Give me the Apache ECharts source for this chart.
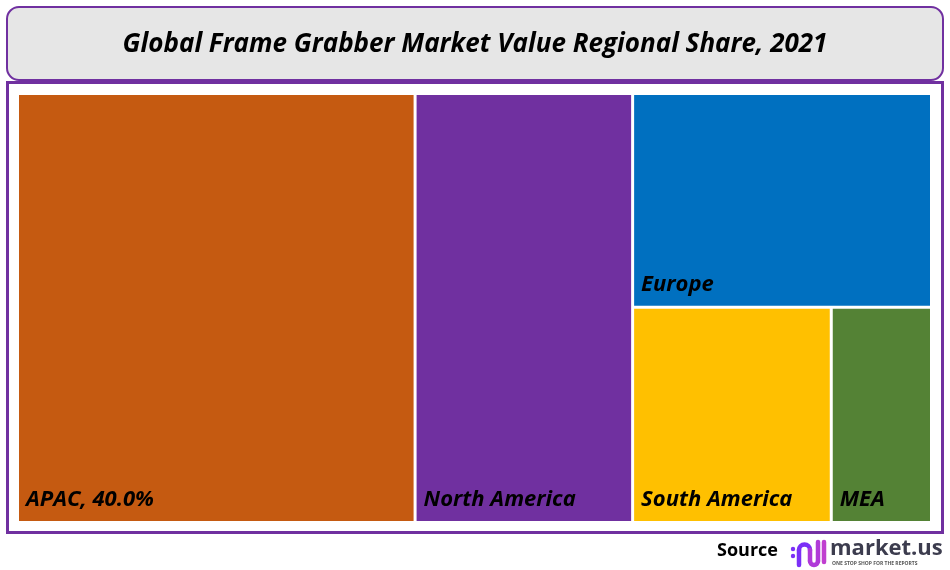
<!DOCTYPE html>
<html><head><meta charset="utf-8">
<script src="https://cdn.jsdelivr.net/npm/echarts@6/dist/echarts.min.js"></script>
<style>html,body{margin:0;padding:0;background:#fff}#c{width:950px;height:570px}</style>
</head><body><div id="c"></div>
<script>
const categories = ['APAC', 'North America', 'Europe', 'South America', 'MEA'];
const values = [43.5, 23.8, 16.3, 10.9, 5.5];
const labels = ['APAC, 40.0%', 'North America', 'Europe', 'South America', 'MEA'];
const colors = ['#c55a11', '#7030a0', '#0070c0', '#ffc000', '#548235'];
const titleText = 'Global Frame Grabber Market Value Regional Share, 2021';

const chart = echarts.init(document.getElementById('c'));
const FONT = '"Open Sans", "Noto Sans", sans-serif';
const P1 = '#7b2ff7', P2 = '#b03ad8';
const ls = (c) => ({fill: 'none', stroke: c, lineWidth: 4.5, lineCap: 'round'});
const data = categories.map((n, i) => ({
  name: n, value: values[i], label: {formatter: labels[i]},
  itemStyle: {color: colors[i]}
}));
chart.setOption({
  animation: false,
  graphic: [
    {type: 'rect', shape: {x: 7, y: 7, width: 936, height: 73, r: 12},
     style: {fill: '#e6e6e6', stroke: '#7030a0', lineWidth: 2}},
    {type: 'text', x: 475, y: 45, style: {text: titleText, fill: '#000', font: 'italic bold 26px ' + FONT, align: 'center', verticalAlign: 'middle'}},
    {type: 'rect', shape: {x: 7.5, y: 82.5, width: 935, height: 450},
     style: {fill: 'none', stroke: '#7030a0', lineWidth: 3}},
    {type: 'text', x: 778, y: 551, style: {text: 'Source', fill: '#000', font: 'bold 18px ' + FONT, align: 'right', verticalAlign: 'middle'}},
    {type: 'group', x: 790, y: 538, children: [
      {type: 'circle', shape: {cx: 3, cy: 11, r: 2.2}, style: {fill: P1}},
      {type: 'circle', shape: {cx: 3, cy: 18, r: 2.2}, style: {fill: P1}},
      {type: 'line', shape: {x1: 9, y1: 27, x2: 9, y2: 12}, style: ls(P1)},
      {type: 'arc', shape: {cx: 14.5, cy: 12, r: 5.5, startAngle: Math.PI, endAngle: 2 * Math.PI, clockwise: true}, style: ls(P1)},
      {type: 'line', shape: {x1: 20, y1: 12, x2: 20, y2: 23}, style: ls(P2)},
      {type: 'arc', shape: {cx: 24, cy: 23, r: 4, startAngle: 0, endAngle: Math.PI, clockwise: true}, style: ls(P2)},
      {type: 'line', shape: {x1: 28, y1: 23, x2: 28, y2: 4}, style: ls(P2)},
      {type: 'line', shape: {x1: 34, y1: 4, x2: 34, y2: 24}, style: ls('#c03fd0')}
    ]},
    {type: 'text', x: 830, y: 549, style: {text: 'market.us', fill: '#3c3c4e', font: 'bold 22px ' + FONT, align: 'left', verticalAlign: 'middle'}},
    {type: 'text', x: 832, y: 564, style: {text: 'ONE STOP SHOP FOR THE REPORTS', fill: '#555', font: 'bold 5px ' + FONT, align: 'left', verticalAlign: 'middle'}}
  ],
  series: [{
    type: 'treemap',
    left: 19, top: 95, width: 911, height: 426,
    squareRatio: 1,
    roam: false, nodeClick: false,
    breadcrumb: {show: false},
    itemStyle: {gapWidth: 3, borderWidth: 0, borderColor: '#fff'},
    levels: [{itemStyle: {gapWidth: 3, borderWidth: 0}}],
    label: {show: true, position: 'insideBottomLeft', distance: 2, offset: [0, -3], color: '#000',
      fontFamily: FONT, fontStyle: 'italic', fontWeight: 'bold', fontSize: 22},
    emphasis: {disabled: true},
    data: data
  }]
});
</script></body></html>
